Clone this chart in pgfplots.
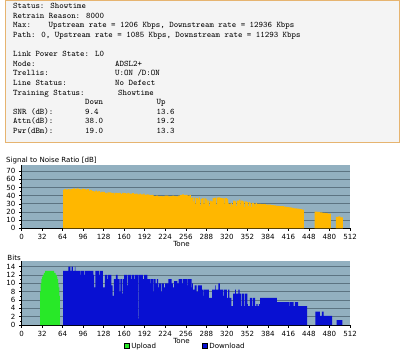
\documentclass[border=0pt]{standalone}
\usepackage{fontspec}
\setmainfont{DejaVu Sans}
\usepackage{pgfplots}
\pgfplotsset{compat=1.18}
\definecolor{plotbg}{RGB}{146,176,192}
\definecolor{gridc}{RGB}{92,116,130}
\definecolor{snrorange}{RGB}{255,183,0}
\definecolor{dlblue}{RGB}{8,16,210}
\definecolor{ulgreen}{RGB}{40,232,40}
\definecolor{boxfill}{RGB}{244,244,244}
\definecolor{boxborder}{RGB}{230,180,112}
\newcommand{\mono}{\ttfamily\fontsize{8.54}{10}\selectfont}
\newcommand{\chartfont}{\fontsize{7.1}{8.5}\selectfont}
\pgfplotsset{
  adslaxis/.style={
    scale only axis, width=328.5bp,
    xmin=0, xmax=512, ymin=0,
    axis background/.style={fill=plotbg},
    axis lines*=left,
    axis line style={black, line width=0.6bp},
    tick align=outside,
    major tick length=2.5bp, minor tick length=1.5bp,
    tick style={black, line width=0.5bp},
    xtick={0,32,...,512},
    minor y tick num=1,
    ymajorgrids, major grid style={gridc, line width=0.9bp},
    tick label style={font=\chartfont},
    /pgf/number format/assume math mode=true,
    xlabel={Tone},
    xlabel style={at={(axis description cs:0.487,0)}, anchor=center, yshift=-15.5bp, font=\chartfont},
  }
}
\begin{document}
\begin{tikzpicture}
\path[use as bounding box] (0bp,0bp) rectangle (400bp,-353bp);
\begin{scope}[x=1bp,y=1bp]
\draw[boxborder, line width=1.2bp, fill=boxfill] (5.6,-0.6) rectangle (399.4,-142.2);
\begin{scope}[every node/.style={anchor=base west, inner sep=0pt, font=\mono}]
\node at (13,-8.5) {Status: Showtime};
\node at (13,-18.1) {Retrain Reason: 8000};
\node at (13,-27.7) {Max:};
\node at (48.5,-27.7) {Upstream rate = 1206 Kbps, Downstream rate = 12936 Kbps};
\node at (13,-37.3) {Path: 0, Upstream rate = 1085 Kbps, Downstream rate = 11293 Kbps};
\node at (13,-56.6) {Link Power State: L0};
\node at (13,-66.2) {Mode:};
\node at (115,-66.2) {ADSL2+};
\node at (13,-75.8) {Trellis:};
\node at (115,-75.8) {U:ON /D:ON};
\node at (13,-85.4) {Line Status:};
\node at (115,-85.4) {No Defect};
\node at (13,-95.0) {Training Status:};
\node at (118,-95.0) {Showtime};
\node at (85,-104.6) {Down};
\node at (156.5,-104.6) {Up};
\node at (13,-114.2) {SNR (dB):};
\node at (85,-114.2) {9.4};
\node at (156.5,-114.2) {13.6};
\node at (13,-123.8) {Attn(dB):};
\node at (85,-123.8) {38.0};
\node at (156.5,-123.8) {19.2};
\node at (13,-133.4) {Pwr(dBm):};
\node at (85,-133.4) {19.0};
\node at (156.5,-133.4) {13.3};
\end{scope}
\node[anchor=west, inner sep=0pt, font=\chartfont] at (6,-160.7) {Signal to Noise Ratio [dB]};
\node[anchor=west, inner sep=0pt, font=\chartfont] at (7.3,-257.5) {Bits};
\end{scope}

% SNR chart
\begin{axis}[adslaxis, at={(21.5bp,-228.3bp)}, anchor=south west,
  height=63.3bp, ymax=77.5, ytick={0,10,...,70}]
\addplot[const plot mark left, fill=snrorange, draw=none] coordinates {
(65,47) (67,48) (70,47) (72,48) (75,46.5) (76,48) (80,49) (83,48) (86,49) (89,48)
(92,47.5) (94,48.5) (97,48) (100,47) (102,48) (105,46) (107,47) (110,45.5) (113,45)
(115,46) (118,45) (120,45.5) (122,44) (124,44.5) (127,44.5) (130,43.5) (133,42) (134,44)
(137,44) (140,43) (142,43.5) (145,41) (146,43.5) (149,43) (152,43.5) (155,42) (157,43.5)
(160,43) (163,42.5) (165,43.5) (168,42.5) (170,42) (172,43) (175,42) (178,42.5) (181,41.5)
(184,42.5) (186,41.5) (190,42.5) (192,41) (195,41.5) (198,41) (200,40.5) (203,41)
(206,39.5) (210,40) (213,39) (216,39.5) (220,39) (223,40) (226,40) (229,39) (232,39.5)
(235,40) (238,39.5) (241,39) (244,40) (247,40.5) (250,41.5) (253,40.5) (256,41)
(259,40) (262,41) (264,37) (266,38) (268,33) (269,37.5) (271,30) (272,37) (275,35)
(276,38) (278,28) (279,36) (282,37) (284,30) (285,36.5) (288,35) (290,31) (291,34)
(293,27) (294,34) (296,33) (298,37) (301,37.5) (303,29) (304,37.5) (307,38) (310,37)
(313,36.5) (316,30) (317,37) (320,36) (322,31) (323,30) (325,26) (326,31) (328,29)
(330,34) (333,33) (335,27) (336,34) (339,35) (341,28) (342,34) (345,33) (347,26)
(348,33) (351,32) (353,27) (354,32) (356,31) (358,26) (359,31) (362,30) (364,27)
(365,31) (367,30) (369,30) (373,29.5) (377,29.5) (381,29) (385,29) (389,28.5)
(393,28) (397,27.5) (401,27) (405,27) (409,26.5) (413,26) (417,25.5) (421,25)
(425,24.5) (429,24) (433,23.5) (437,23) (440,0) (457,20.5) (461,20) (465,19.5)
(469,19) (473,18.5) (477,18) (482,0) (490,14) (494,14.5) (497,13.5) (501,0)
} \closedcycle;
\end{axis}

% Bits chart
\begin{axis}[adslaxis, at={(21.5bp,-325bp)}, anchor=south west,
  height=64bp, ymax=15.35, ytick={0,2,...,14},
  legend columns=2,
  legend style={at={(axis description cs:0.311,-0.33)}, anchor=west,
    draw=none, fill=none, inner sep=0pt, font=\chartfont,
    /tikz/every even column/.append style={column sep=44bp}},
  legend cell align=left,
  legend image code/.code={\draw[#1] (0bp,-2.5bp) rectangle (5bp,2.5bp);}]
\addplot[const plot mark left, fill=ulgreen, draw=none] coordinates {
(29,8) (30,10) (31,11) (32,11.5) (33,12) (35,12.5) (37,13) (51,12.5) (53,12)
(55,11.5) (56,11) (57,10) (58,9) (59,7) (60,0)
} \closedcycle;
\addlegendentry{Upload}
\addplot[const plot mark left, fill=dlblue, draw=none] coordinates {
(65,13) (73,14) (76,13) (78,14) (80,13) (83,14) (84,13) (92,12) (93,13) (98,12) (99,13)
(112,12) (113,9) (115,13) (121,12) (122,13) (127,9) (130,12) (134,11) (135,12)
(140,9.5) (142,7) (144,11) (147,12) (150,11) (153,8) (154,11) (157,7.5) (158,11)
(160,12) (165,9.5) (166,12) (171,11) (172,12) (176,11) (177,12) (182,1.5) (183,12)
(189,11) (191,12) (196,11) (200,10) (201,11) (205,8) (206,11) (209,10) (211,11)
(213,9) (214,10) (218,8) (219,10) (222,9) (224,10) (229,11) (234,10) (236,9)
(238,10.5) (243,10) (245,11) (250,10) (251,11) (258,9.5) (259,11) (265,9) (266,10)
(267,8.5) (270,9.5) (273,8) (275,9.5) (278,9.5) (281,8.5) (283,7) (284,8.5)
(289,8.5) (292,6.5) (295,6.5) (297,8.5) (302,9.5) (303,8.5) (307,10) (309,8.5)
(314,7) (315,8.5) (320,6.5) (322,8.5) (324,6.5) (327,4.5) (330,7.5) (333,8.5)
(334,7.5) (338,8.5) (340,7.5) (342,4.5) (343,7.5) (347,4.5) (348,7.5) (352,5)
(353,4.5) (356,6.5) (360,4.5) (361,6.5) (364,4.5) (366,5) (368,4.5) (370,5)
(372,6.5) (398,5.5) (417,4.5) (418,5.5) (424,4.5) (426,5.5) (431,4.5) (445,0)
(458,3.2) (465,2.2) (468,3.2) (471,2.2) (484,0) (491,1.2) (500,0)
} \closedcycle;
\addlegendentry{Download}
\end{axis}
\end{tikzpicture}
\end{document}
